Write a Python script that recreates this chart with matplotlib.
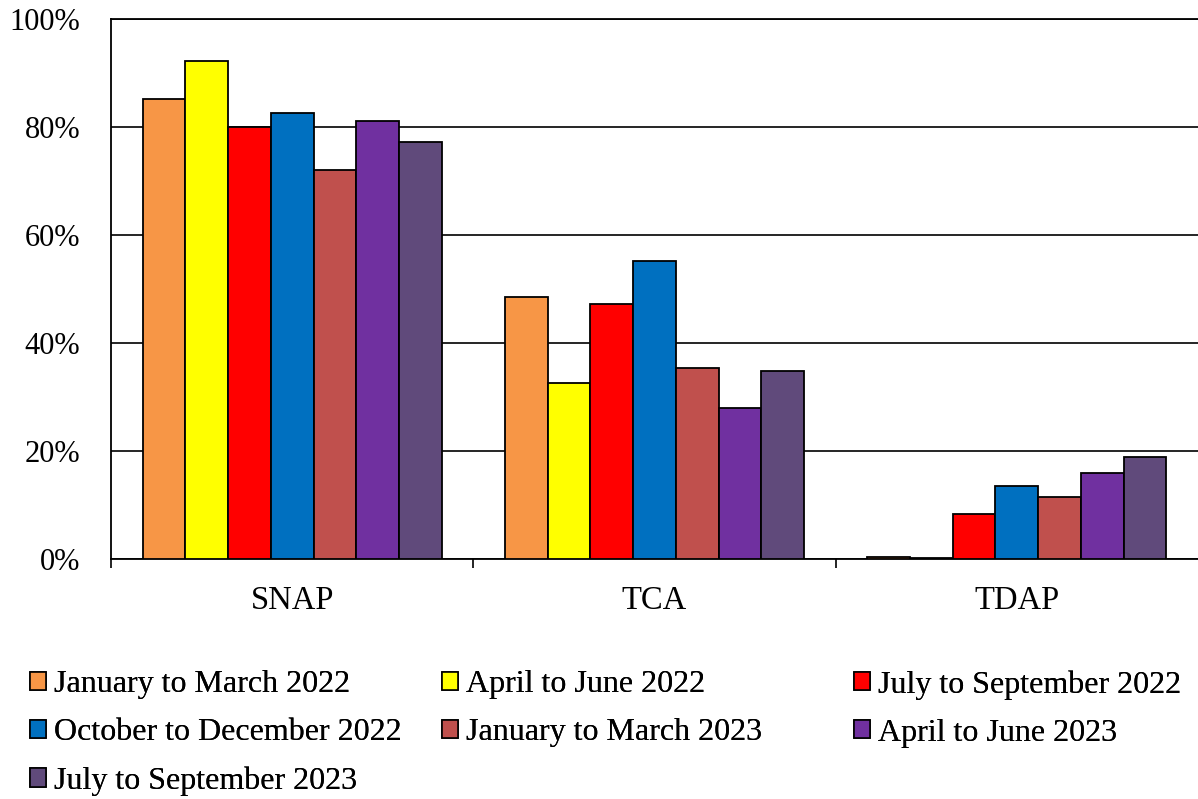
import numpy as np
import matplotlib
matplotlib.use("Agg")
import matplotlib.pyplot as plt
from matplotlib.patches import Patch
from matplotlib.ticker import PercentFormatter

plt.rcParams['font.family'] = ['Liberation Serif', 'DejaVu Serif']

programs = ["SNAP", "TCA", "TDAP"]
periods = ["January to March 2022", "April to June 2022", "July to September 2022",
           "October to December 2022", "January to March 2023", "April to June 2023",
           "July to September 2023"]
colors = ["#F79646", "#FFFF00", "#FF0000", "#0070C0", "#C0504D", "#7030A0", "#604A7B"]

# share per period, columns = SNAP, TCA, TDAP
jan_mar_22 = [85.2, 48.5, 0.4]
apr_jun_22 = [92.2, 32.6, 0.2]
jul_sep_22 = [80.0, 47.2, 8.3]
oct_dec_22 = [82.6, 55.2, 13.5]
jan_mar_23 = [72.0, 35.4, 11.5]
apr_jun_23 = [81.1, 28.0, 15.9]
jul_sep_23 = [77.2, 34.8, 18.9]
series = [jan_mar_22, apr_jun_22, jul_sep_22, oct_dec_22, jan_mar_23, apr_jun_23, jul_sep_23]

fig = plt.figure(figsize=(11.98, 7.99), dpi=100)
ax = fig.add_axes([111 / 1198, 1 - 559 / 799, 1 - 111 / 1198, (559 - 19) / 799])

x = np.arange(len(programs))
w = 0.118
for i, vals in enumerate(series):
    ax.bar(x + (i - 3) * w, vals, width=w, color=colors[i], edgecolor="black",
           linewidth=1.3, zorder=3)

ax.set_xlim(-0.5, 2.5)
ax.set_ylim(0, 100)
ax.set_yticks(range(0, 101, 20))
ax.yaxis.set_major_formatter(PercentFormatter(decimals=0))
ax.yaxis.grid(True, color="black", linewidth=1.2, zorder=0)
ax.tick_params(axis="y", length=0, pad=22, labelsize=22)

ax.set_xticks(x)
ax.set_xticklabels(programs)
ax.set_xticks([-0.5, 0.5, 1.5], minor=True)
ax.tick_params(axis="x", which="major", length=0, pad=19, labelsize=23.5)
ax.tick_params(axis="x", which="minor", length=6.5, width=1.2, direction="out")

ax.spines["right"].set_visible(False)
for s in ["left", "bottom", "top"]:
    ax.spines[s].set_linewidth(1.3)

# legend in three fixed columns, row-major order like the source
col_x = [30 / 1198, 442 / 1198, 854 / 1198]
for c in range(3):
    idx = list(range(c, len(periods), 3))
    handles = [Patch(facecolor=colors[i], edgecolor="black", linewidth=1.2) for i in idx]
    leg = fig.legend(handles, [periods[i] for i in idx], loc="upper left",
                     bbox_to_anchor=(col_x[c], 1 - 670 / 799), frameon=False,
                     fontsize=23, handlelength=0.5, handleheight=0.5,
                     handletextpad=0.25, labelspacing=0.6, borderaxespad=0,
                     borderpad=0)
    fig.add_artist(leg)

fig.savefig("out.png", dpi=100)
